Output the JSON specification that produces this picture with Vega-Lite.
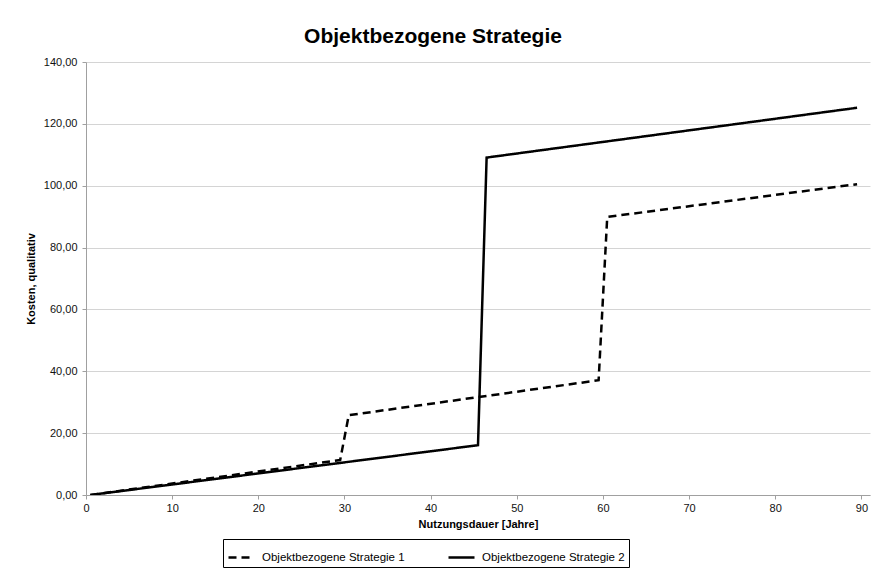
{
  "$schema": "https://vega.github.io/schema/vega-lite/v6.json",
  "width": 784,
  "height": 433,
  "autosize": {"type": "none"},
  "padding": {"left": 86, "top": 62, "right": 4, "bottom": 77},
  "background": "white",
  "title": {
    "text": "Objektbezogene Strategie",
    "font": "Liberation Sans",
    "fontSize": 21,
    "fontWeight": "bold",
    "color": "#000000",
    "anchor": "middle",
    "frame": "group",
    "dx": -45,
    "baseline": "alphabetic",
    "offset": -8
  },
  "data": {
    "values": [
      {"Jahr": 0, "Kosten": 0, "Strategie": "Objektbezogene Strategie 1"},
      {"Jahr": 29, "Kosten": 11.3, "Strategie": "Objektbezogene Strategie 1"},
      {"Jahr": 30, "Kosten": 25.8, "Strategie": "Objektbezogene Strategie 1"},
      {"Jahr": 59, "Kosten": 37.1, "Strategie": "Objektbezogene Strategie 1"},
      {"Jahr": 60, "Kosten": 89.9, "Strategie": "Objektbezogene Strategie 1"},
      {"Jahr": 89, "Kosten": 100.5, "Strategie": "Objektbezogene Strategie 1"},
      {"Jahr": 0, "Kosten": 0, "Strategie": "Objektbezogene Strategie 2"},
      {"Jahr": 45, "Kosten": 16.1, "Strategie": "Objektbezogene Strategie 2"},
      {"Jahr": 46, "Kosten": 109.1, "Strategie": "Objektbezogene Strategie 2"},
      {"Jahr": 89, "Kosten": 125.2, "Strategie": "Objektbezogene Strategie 2"}
    ]
  },
  "mark": {"type": "line", "color": "#000000", "strokeWidth": 2.5, "clip": true},
  "encoding": {
    "x": {
      "field": "Jahr",
      "type": "quantitative",
      "scale": {"domain": [-0.5, 90.5], "nice": false, "zero": false},
      "axis": {
        "title": "Nutzungsdauer [Jahre]",
        "values": [0, 10, 20, 30, 40, 50, 60, 70, 80, 90],
        "grid": false,
        "tickOffset": -4.3,
        "tickSize": 4,
        "labelPadding": 3,
        "titlePadding": 5
      }
    },
    "y": {
      "field": "Kosten",
      "type": "quantitative",
      "scale": {"domain": [0, 140], "nice": false},
      "axis": {
        "title": "Kosten, qualitativ",
        "values": [0, 20, 40, 60, 80, 100, 120, 140],
        "labelExpr": "replace(format(datum.value, '.2f'), '.', ',')",
        "grid": true,
        "tickSize": 4,
        "labelPadding": 5,
        "titlePadding": 7
      }
    },
    "strokeDash": {
      "field": "Strategie",
      "type": "nominal",
      "scale": {
        "domain": ["Objektbezogene Strategie 1", "Objektbezogene Strategie 2"],
        "range": [[8, 5], [1, 0]]
      },
      "legend": {
        "title": null,
        "orient": "none",
        "legendX": 137,
        "legendY": 477,
        "direction": "horizontal",
        "symbolType": "stroke",
        "symbolSize": 676,
        "symbolStrokeWidth": 2.5,
        "symbolStrokeColor": "#000000",
        "labelFont": "Liberation Sans",
        "labelFontSize": 11.5,
        "labelColor": "#000000",
        "labelOffset": 6,
        "labelLimit": 300,
        "columnPadding": 38,
        "strokeColor": "#000000",
        "padding": 4
      }
    }
  },
  "config": {
    "view": {"stroke": null},
    "font": "Liberation Sans",
    "axis": {
      "domainColor": "#a0a0a0",
      "domainWidth": 1,
      "tickColor": "#a0a0a0",
      "gridColor": "#d4d4d4",
      "gridWidth": 1,
      "labelFont": "Liberation Sans",
      "labelFontSize": 11,
      "labelColor": "#111111",
      "titleFont": "Liberation Sans",
      "titleFontSize": 11,
      "titleFontWeight": "bold",
      "titleColor": "#000000"
    }
  }
}
